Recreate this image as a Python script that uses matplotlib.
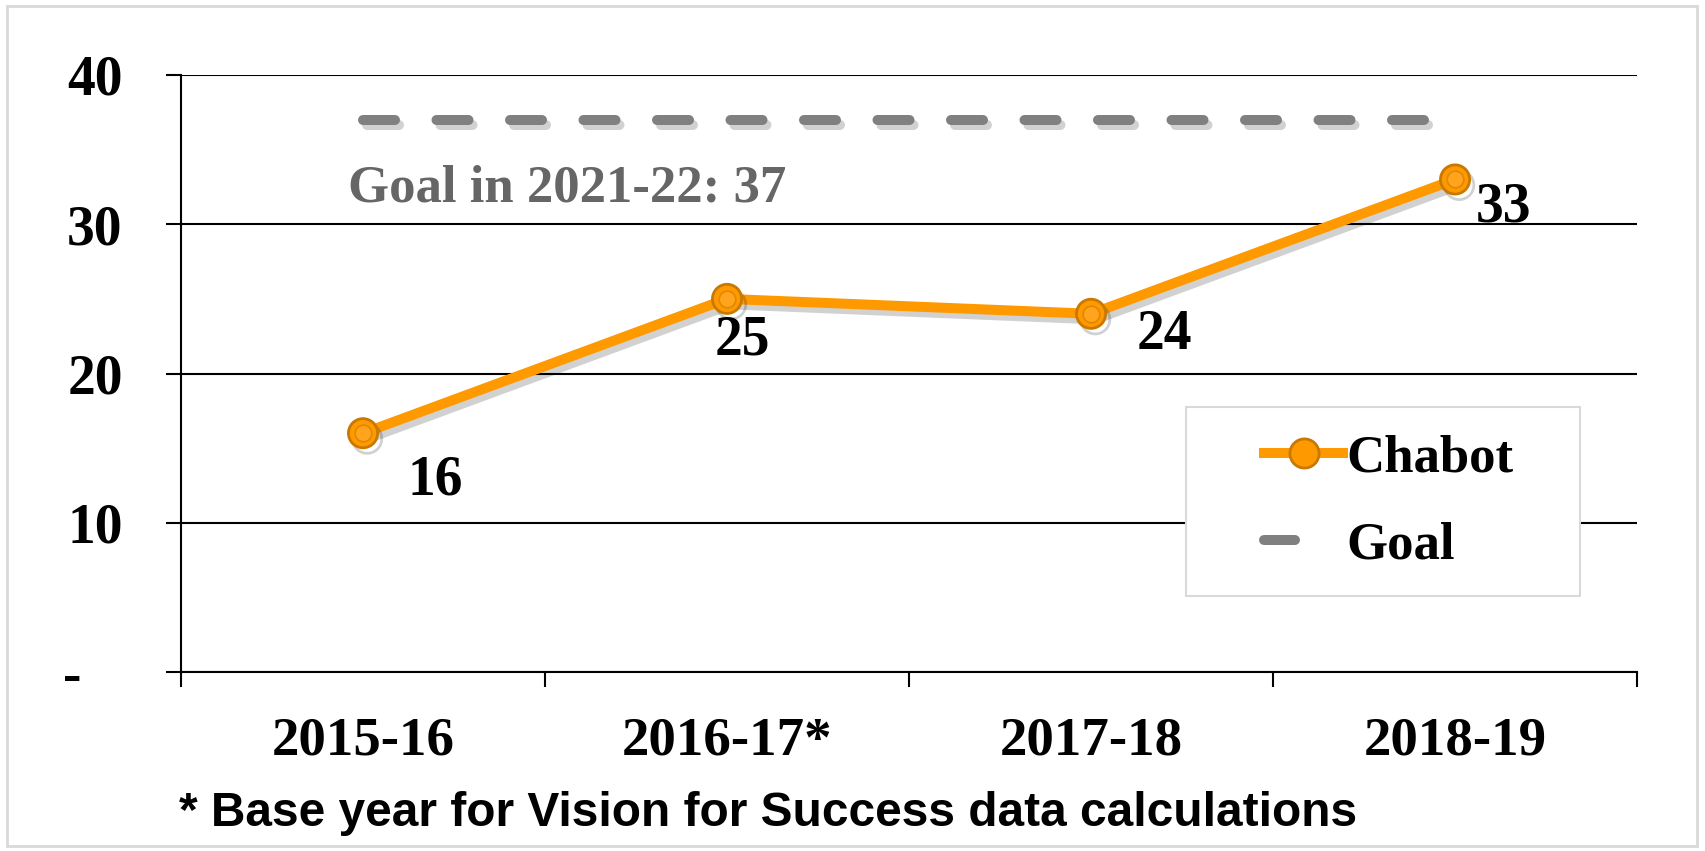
import matplotlib
matplotlib.use("Agg")
import matplotlib.pyplot as plt
import matplotlib.patheffects as pe
from matplotlib.patches import Rectangle
from matplotlib.lines import Line2D

# data
years = ["2015-16", "2016-17*", "2017-18", "2018-19"]
chabot = [16, 25, 24, 33]
goal = [37, 37, 37, 37]
y_ticks = [0, 10, 20, 30, 40]
y_labels = ["-   ", "10", "20", "30", "40"]

orange = "#FF9900"
orange_edge = "#C97800"
gray = "#808080"
serif = "Liberation Serif"

fig = plt.figure(figsize=(17.06, 8.51), dpi=100)
ax = fig.add_axes([0.1061, 0.2103, 0.8535, 0.7016])

x = list(range(len(years)))
shadow = [pe.SimpleLineShadow(offset=(3, -4), shadow_color="black", alpha=0.18), pe.Normal()]

# goal line
ax.plot(x, goal, color=gray, lw=7.2, solid_capstyle="round", dash_capstyle="round",
        dashes=(3.2, 4.15), path_effects=shadow, zorder=3)

# chabot line
ax.plot(x, chabot, color=orange, lw=7.2, solid_capstyle="round", marker="o", ms=21,
        mfc=orange, mec=orange_edge, mew=2, path_effects=shadow, zorder=4)
ax.plot(x, chabot, ls="none", marker="o", ms=12, mfc="#FFA41C", mec="#E08800", mew=1.2, zorder=5)

# data labels
offsets = [(52, -34), (11, -30), (53, -15), (35, -20)]
for xi, v, off in zip(x, chabot, offsets):
    ax.annotate(str(v), (xi, v), xytext=off, textcoords="offset points",
                ha="center", va="center", fontsize=40, fontweight="bold", family=serif)

ax.text(-0.04, 32.4, "Goal in 2021-22: 37", color="#666666", fontsize=38,
        fontweight="bold", family=serif, ha="left", va="center")

ax.set_xlim(-0.5, 3.5)
ax.set_ylim(0, 40)
ax.set_yticks(y_ticks)
ax.set_yticklabels(y_labels)
ax.set_xticks(x)
ax.set_xticklabels(years)
ax.set_xticks([-0.5, 0.5, 1.5, 2.5, 3.5], minor=True)
ax.tick_params(axis="x", which="major", length=0, pad=32)
ax.tick_params(axis="x", which="minor", length=11, width=1.5, direction="out")
ax.tick_params(axis="y", length=11, width=1.5, direction="out", pad=31)
for lab in ax.get_xticklabels() + ax.get_yticklabels():
    lab.set_fontfamily(serif)
    lab.set_fontweight("bold")
    lab.set_fontsize(39.5)
for lab in ax.get_yticklabels():
    lab.set_fontsize(40)

ax.grid(axis="y", color="black", lw=1.5)
ax.set_axisbelow(True)
for s in ["top", "right"]:
    ax.spines[s].set_visible(False)
ax.spines["left"].set_linewidth(1.5)
ax.spines["bottom"].set_linewidth(1.5)

# legend: frame drawn separately
ax.add_patch(Rectangle((0.690, 0.127), 0.271, 0.317, transform=ax.transAxes,
                       facecolor="white", edgecolor="#D9D9D9", lw=1.5, zorder=6))
handles = [
    Line2D([], [], color=orange, lw=7.2, marker="o", ms=21, mfc=orange, mec=orange_edge, mew=2),
    Line2D([], [], color=gray, lw=7.2, dashes=(3.1, 10), dash_capstyle="round"),
]
leg = ax.legend(handles, ["Chabot", "Goal"], loc="center left",
                bbox_to_anchor=(0.744, 0.285),
                prop={"family": serif, "weight": "bold", "size": 38},
                frameon=False, borderpad=0, handlelength=1.5, handletextpad=0.05,
                labelspacing=0.75, borderaxespad=0)
leg.set_zorder(7)

fig.text(0.105, 0.044, "* Base year for Vision for Success data calculations",
         family="Liberation Sans", fontweight="bold", fontsize=34.5, ha="left", va="center")

fig.patches.append(Rectangle((0.004, 0.006), 0.991, 0.987, transform=fig.transFigure,
                             fill=False, edgecolor="#D9D9D9", lw=2))

fig.savefig("out.png", dpi=100)
